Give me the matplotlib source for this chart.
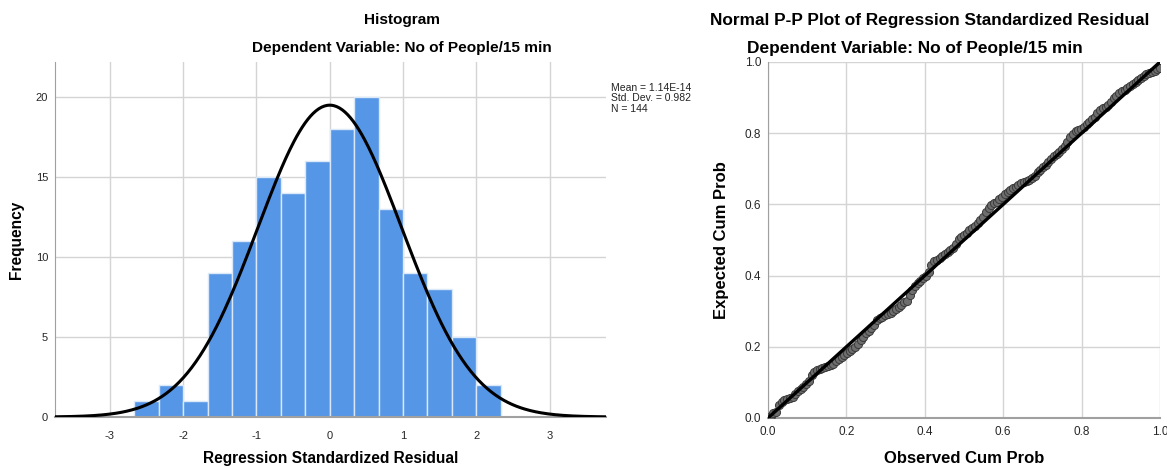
import numpy as np
import matplotlib.pyplot as plt

plt.rcParams['font.family'] = ['Liberation Sans', 'DejaVu Sans']
plt.rcParams['axes.unicode_minus'] = False

# histogram of standardized residuals (bins of width 1/3)
bin_edges = np.arange(-8, 8) / 3.0
counts = [1, 2, 1, 9, 11, 15, 14, 16, 18, 20, 13, 9, 8, 5, 2]
res_mean = 1.14e-14
res_sd = 0.982
n_obs = 144
stats_text = "Mean = 1.14E-14\nStd. Dev. = 0.982\nN = 144"

# P-P plot: expected cum prob for each ranked residual
expected = [
    0.006, 0.013, 0.018, 0.036, 0.046, 0.050, 0.052, 0.055, 0.060, 0.068,
    0.075, 0.082, 0.088, 0.095, 0.103, 0.120, 0.130, 0.134, 0.137, 0.140,
    0.143, 0.146, 0.149, 0.152, 0.160, 0.166, 0.172, 0.177, 0.183, 0.188,
    0.194, 0.200, 0.208, 0.218, 0.228, 0.238, 0.245, 0.252, 0.262, 0.275,
    0.282, 0.285, 0.288, 0.292, 0.295, 0.300, 0.305, 0.312, 0.318, 0.325,
    0.330, 0.345, 0.360, 0.370, 0.378, 0.385, 0.392, 0.400, 0.410, 0.430,
    0.440, 0.445, 0.450, 0.455, 0.460, 0.466, 0.472, 0.478, 0.490, 0.502,
    0.508, 0.515, 0.520, 0.527, 0.533, 0.540, 0.547, 0.555, 0.565, 0.578,
    0.590, 0.598, 0.603, 0.608, 0.615, 0.622, 0.630, 0.636, 0.640, 0.645,
    0.650, 0.655, 0.660, 0.663, 0.665, 0.668, 0.673, 0.680, 0.690, 0.697,
    0.705, 0.712, 0.720, 0.728, 0.735, 0.742, 0.748, 0.755, 0.765, 0.775,
    0.788, 0.798, 0.806, 0.810, 0.813, 0.818, 0.825, 0.832, 0.840, 0.845,
    0.858, 0.866, 0.870, 0.874, 0.880, 0.888, 0.898, 0.905, 0.912, 0.918,
    0.922, 0.926, 0.932, 0.938, 0.944, 0.950, 0.955, 0.960, 0.965, 0.968,
    0.972, 0.976, 0.980, 0.984,
]
observed = np.arange(1, len(expected) + 1) / len(expected)

grid_col = '#d4d4d4'
tick_col = '#262626'

fig = plt.figure(figsize=(11.67, 4.67), dpi=100)

# ---------------- histogram ----------------
ax1 = fig.add_axes([55/1167, 50/467, 551/1167, 355/467])
binw = bin_edges[1] - bin_edges[0]
ax1.bar(bin_edges[:-1], counts, width=binw, align='edge',
        color='#5596e6', edgecolor='#dbe8f8', linewidth=1, zorder=2)
xs = np.linspace(-3.75, 3.77, 400)
curve = n_obs * binw * np.exp(-0.5 * ((xs - res_mean) / res_sd) ** 2) / (res_sd * np.sqrt(2 * np.pi))
ax1.plot(xs, curve, color='black', lw=2.2, zorder=3)
ax1.set_xlim(-3.75, 3.77)
ax1.set_ylim(0, 22.2)
ax1.set_xticks([-3, -2, -1, 0, 1, 2, 3])
ax1.set_yticks([0, 5, 10, 15, 20])
ax1.grid(True, color=grid_col, lw=1, zorder=0)
ax1.set_axisbelow(True)
for s in ['top', 'right']:
    ax1.spines[s].set_visible(False)
ax1.spines['left'].set_color('#a0a0a0')
ax1.spines['bottom'].set_color('#a0a0a0')
ax1.spines['bottom'].set_linewidth(1.5)
ax1.tick_params(length=0, labelsize=8, colors=tick_col)
ax1.tick_params(axis='x', pad=10)
ax1.tick_params(axis='y', pad=5)
ax1.set_xlabel('Regression Standardized Residual', fontsize=11.2, fontweight='bold')
ax1.set_ylabel('Frequency', fontsize=11.2, fontweight='bold')
ax1.xaxis.set_label_coords(0.5, -0.095)
ax1.yaxis.set_label_coords(-0.056, 0.5)
fig.text(402/1167, 1 - 20/467, 'Histogram', ha='center', va='center', fontsize=11.1, fontweight='bold')
fig.text(402/1167, 1 - 48/467, 'Dependent Variable: No of People/15 min', ha='center', va='center',
         fontsize=11.1, fontweight='bold')
fig.text(611/1167, 1 - 83/467, stats_text, ha='left', va='top', fontsize=7.5,
         color='#222222', linespacing=1.05)

# ---------------- P-P plot ----------------
ax2 = fig.add_axes([768/1167, 49/467, 392/1167, 356/467])
ax2.scatter(observed, expected, s=34, facecolor='#6e6e6e', edgecolor='#3a3a3a',
            linewidth=0.7, zorder=3)
ax2.plot([0, 1], [0, 1], color='black', lw=2.4, zorder=4)
ax2.set_xlim(0, 1)
ax2.set_ylim(0, 1)
ticks = [0.0, 0.2, 0.4, 0.6, 0.8, 1.0]
ax2.set_xticks(ticks)
ax2.set_yticks(ticks)
ax2.set_xticklabels([f'{t:.1f}' for t in ticks])
ax2.set_yticklabels([f'{t:.1f}' for t in ticks])
ax2.grid(True, color=grid_col, lw=1, zorder=0)
ax2.set_axisbelow(True)
for s in ['top', 'right']:
    ax2.spines[s].set_visible(False)
ax2.spines['left'].set_color('#a0a0a0')
ax2.spines['bottom'].set_color('#a0a0a0')
ax2.spines['bottom'].set_linewidth(1.5)
ax2.tick_params(length=0, labelsize=8.5, colors=tick_col)
ax2.tick_params(axis='x', pad=6)
ax2.tick_params(axis='y', pad=5)
ax2.set_xlabel('Observed Cum Prob', fontsize=12, fontweight='bold')
ax2.set_ylabel('Expected Cum Prob', fontsize=12, fontweight='bold')
ax2.xaxis.set_label_coords(0.5, -0.093)
ax2.yaxis.set_label_coords(-0.1, 0.5)
fig.text(930/1167, 1 - 20/467, 'Normal P-P Plot of Regression Standardized Residual',
         ha='center', va='center', fontsize=12.4, fontweight='bold')
fig.text(915/1167, 1 - 48/467, 'Dependent Variable: No of People/15 min', ha='center', va='center',
         fontsize=12.4, fontweight='bold')

fig.savefig('out.png', dpi=100)
